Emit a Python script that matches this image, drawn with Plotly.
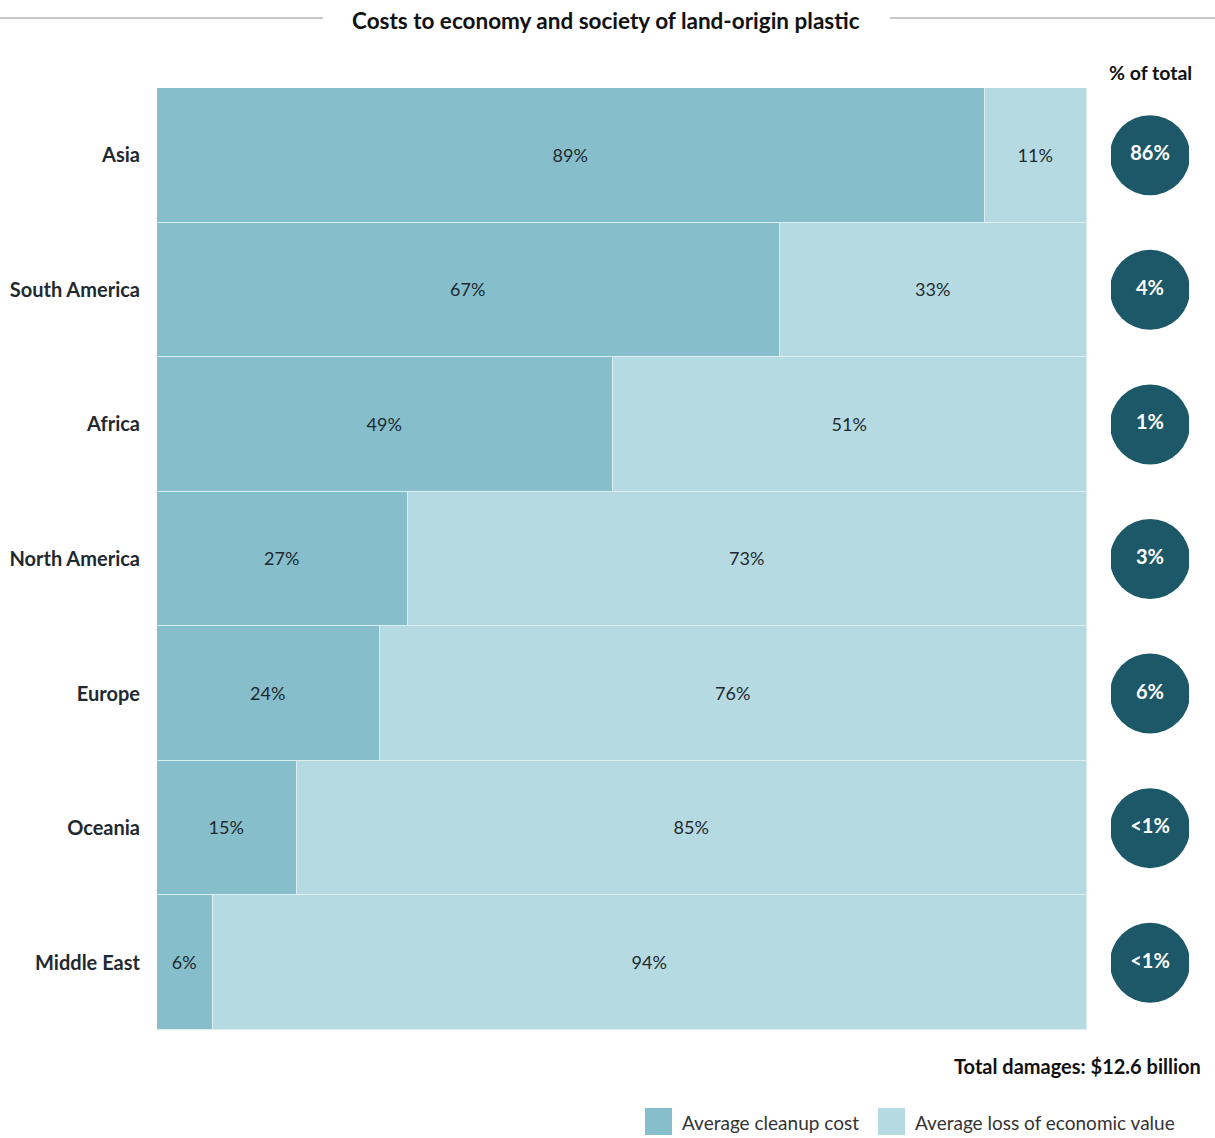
import plotly.graph_objects as go

# Regions, top to bottom
regions = ["Asia", "South America", "Africa", "North America", "Europe", "Oceania", "Middle East"]
# Split of each region's cost (percent)
cleanup_cost = [89, 67, 49, 27, 24, 15, 6]
economic_loss = [11, 33, 51, 73, 76, 85, 94]
# Each region's share of the total damages
share_of_total = ["86%", "4%", "1%", "3%", "6%", "<1%", "<1%"]

DARK = "#86bfcb"
LIGHT = "#b6dae1"
CIRCLE = "#1d5868"
SEP = "#dbeff3"
FONT = "Lato"
TEXT = "#1f2a30"

fig = go.Figure()

fig.add_trace(go.Bar(
    y=regions, x=cleanup_cost, orientation="h", name="Average cleanup cost",
    marker=dict(color=DARK, line=dict(color=SEP, width=1.5)),
    text=[f"{v}%" for v in cleanup_cost], textposition="inside",
    insidetextanchor="middle", textangle=0, constraintext="none",
    textfont=dict(family=FONT, size=18, color=TEXT),
    hoverinfo="skip", showlegend=False,
))
fig.add_trace(go.Bar(
    y=regions, x=economic_loss, orientation="h", name="Average loss of economic value",
    marker=dict(color=LIGHT, line=dict(color=SEP, width=1.5)),
    text=[f"{v}%" for v in economic_loss], textposition="inside",
    insidetextanchor="middle", textangle=0, constraintext="none",
    textfont=dict(family=FONT, size=18, color=TEXT),
    hoverinfo="skip", showlegend=False,
))

# Share-of-total circles on their own x-axis beside the bars
fig.add_trace(go.Scatter(
    x=[0.5] * len(regions), y=regions, xaxis="x2", mode="markers+text",
    marker=dict(size=80, color=CIRCLE, line=dict(width=0)),
    text=share_of_total, textposition="middle center",
    textfont=dict(family=FONT, size=20, color="white", weight="bold"),
    hoverinfo="skip", showlegend=False,
))

W, H = 1215, 1138
L, R, T, B = 157, 0, 88, 108
pw, ph = W - L - R, H - T - B


def px(x):
    return (x - L) / pw


def py(y):
    return (H - B - y) / ph


fig.update_layout(
    width=W, height=H, barmode="stack", bargap=0,
    margin=dict(l=L, r=R, t=T, b=B),
    paper_bgcolor="white", plot_bgcolor="white",
    font=dict(family=FONT, color=TEXT),
    xaxis=dict(domain=[0, px(1087)], range=[0, 100], visible=False, fixedrange=True),
    xaxis2=dict(domain=[px(1111), px(1189)], range=[0, 1], visible=False, anchor="y"),
    yaxis=dict(categoryorder="array", categoryarray=regions[::-1],
               range=[-0.5, len(regions) - 0.5],
               showgrid=False, showline=False, zeroline=False, ticks="",
               ticklabelstandoff=16,
               tickfont=dict(family=FONT, size=20, color=TEXT, weight="bold")),
    showlegend=False,
)

# Title with rules on both sides
fig.add_annotation(text="<b>Costs to economy and society of land-origin plastic</b>",
                   xref="paper", yref="paper", x=px(606), y=py(20),
                   showarrow=False, font=dict(family=FONT, size=22.5, color="#111"),
                   xanchor="center", yanchor="middle")
for x0, x1 in [(0, 323), (890, 1215)]:
    fig.add_shape(type="line", xref="paper", yref="paper",
                  x0=px(x0), x1=px(x1), y0=py(18), y1=py(18),
                  line=dict(color="#b5b5b5", width=1.5))

fig.add_annotation(text="<b>% of total</b>", xref="paper", yref="paper",
                   x=px(1150), y=py(72), showarrow=False,
                   font=dict(family=FONT, size=19.5, color="#111"),
                   xanchor="center", yanchor="middle")

fig.add_annotation(text="<b>Total damages: $12.6 billion</b>", xref="paper", yref="paper",
                   x=px(1203), y=py(1066), showarrow=False,
                   font=dict(family=FONT, size=20, color="#111"),
                   xanchor="right", yanchor="middle")

# Legend
legend_items = [("Average cleanup cost", DARK, 645), ("Average loss of economic value", LIGHT, 878)]
for label, color, x0 in legend_items:
    fig.add_shape(type="rect", xref="paper", yref="paper",
                  x0=px(x0), x1=px(x0 + 27), y0=py(1108), y1=py(1135),
                  fillcolor=color, line=dict(width=0))
    fig.add_annotation(text=label, xref="paper", yref="paper",
                       x=px(x0 + 35), y=py(1122), showarrow=False,
                       font=dict(family=FONT, size=19, color="#333"),
                       xanchor="left", yanchor="middle")

fig.write_html("out.html")
